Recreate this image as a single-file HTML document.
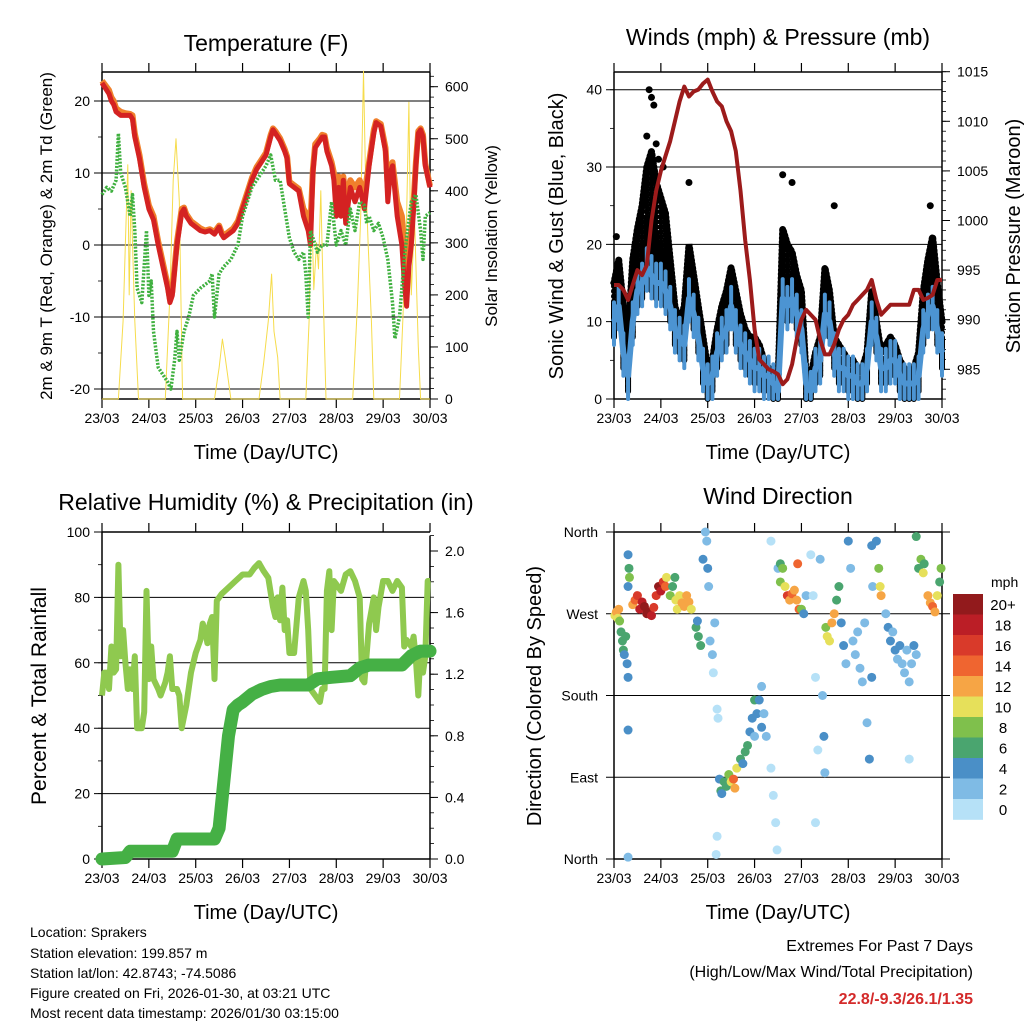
<!DOCTYPE html>
<html><head><meta charset="utf-8"><style>
html,body{margin:0;padding:0;background:#fff;}
svg{display:block;font-family:"Liberation Sans",sans-serif;}
</style></head><body>
<svg id="fig" width="1024" height="1024" viewBox="0 0 1024 1024" xmlns="http://www.w3.org/2000/svg">
<rect width="1024" height="1024" fill="#fff"/>
<text x="266" y="51" font-size="23" text-anchor="middle">Temperature (F)</text>
<text x="778" y="45" font-size="23" text-anchor="middle">Winds (mph) &amp; Pressure (mb)</text>
<text x="266" y="510" font-size="23" text-anchor="middle">Relative Humidity (%) &amp; Precipitation (in)</text>
<text x="778" y="504" font-size="23" text-anchor="middle">Wind Direction</text>
<text transform="translate(52,236) rotate(-90)" font-size="17" text-anchor="middle">2m &amp; 9m T (Red, Orange) &amp; 2m Td (Green)</text>
<text transform="translate(497,236) rotate(-90)" font-size="17" text-anchor="middle">Solar Insolation (Yellow)</text>
<text transform="translate(563,236) rotate(-90)" font-size="20" text-anchor="middle">Sonic Wind &amp; Gust (Blue, Black)</text>
<text transform="translate(1020,236) rotate(-90)" font-size="20" text-anchor="middle">Station Pressure (Maroon)</text>
<text transform="translate(46,696) rotate(-90)" font-size="21" text-anchor="middle">Percent &amp; Total Rainfall</text>
<text transform="translate(541,696) rotate(-90)" font-size="20" text-anchor="middle">Direction (Colored By Speed)</text>
<text x="266" y="459" font-size="20" text-anchor="middle">Time (Day/UTC)</text>
<text x="778" y="459" font-size="20" text-anchor="middle">Time (Day/UTC)</text>
<text x="266" y="919" font-size="20" text-anchor="middle">Time (Day/UTC)</text>
<text x="778" y="919" font-size="20" text-anchor="middle">Time (Day/UTC)</text>
<g font-size="14">
<text x="30" y="937">Location: Sprakers</text>
<text x="30" y="958">Station elevation: 199.857 m</text>
<text x="30" y="978">Station lat/lon: 42.8743; -74.5086</text>
<text x="30" y="998">Figure created on Fri, 2026-01-30, at 03:21 UTC</text>
<text x="30" y="1018">Most recent data timestamp: 2026/01/30 03:15:00</text>
</g>
<text x="973" y="951" font-size="16" text-anchor="end">Extremes For Past 7 Days</text>
<text x="973" y="977" font-size="16" text-anchor="end">(High/Low/Max Wind/Total Precipitation)</text>
<text x="973" y="1004" font-size="16" font-weight="bold" fill="#d42a2a" text-anchor="end">22.8/-9.3/26.1/1.35</text>
<g id="plots"></g>
</svg>
<script>
// ---------- data ----------
const dayLabels = ["23/03","24/03","25/03","26/03","27/03","28/03","29/03","30/03"];
const tempTicks = [20,10,0,-10,-20];
const solarTicks = [600,500,400,300,200,100,0];
const windTicks = [40,30,20,10,0];
const pressTicks = [1015,1010,1005,1000,995,990,985];
const rhTicks = [100,80,60,40,20,0];
const precipTicks = [2.0,1.6,1.2,0.8,0.4,0.0];
const dirTickLabels = ["North","West","South","East","North"];
const dirTickValues = [360,270,180,90,0];

const tempTime = [0,0.15,0.2,0.25,0.3,0.4,0.5,0.6,0.65,0.7,0.8,0.9,1.0,1.1,1.2,1.3,1.4,1.45,1.5,1.6,1.7,1.75,1.8,1.9,2.0,2.1,2.2,2.3,2.4,2.5,2.55,2.6,2.7,2.8,2.9,3.0,3.1,3.2,3.3,3.4,3.5,3.6,3.65,3.7,3.8,3.9,3.95,4.0,4.1,4.2,4.3,4.4,4.45,4.5,4.55,4.65,4.7,4.75,4.8,4.9,4.95,5.0,5.05,5.1,5.15,5.2,5.3,5.4,5.5,5.6,5.7,5.8,5.85,5.95,6.05,6.1,6.15,6.2,6.3,6.4,6.45,6.5,6.55,6.6,6.65,6.7,6.75,6.8,6.85,6.9,7.0];
const temp2m = [22.5,21,20,19.5,18.5,18,18,18,17.5,15,12,8,5,3.5,0,-3,-6,-8,-7,0,4.5,5,4,3,2.5,2,1.8,2,1.5,2.5,1.5,1,1.5,2,3,5,7,9,10.5,11.5,12.5,15,16,15.5,14.5,13,12,8.5,8,7.5,4,2,0,10,13.5,14.5,15,15,13,11,9,4,8,4,9,3,8,6,8,5,11,15.5,17,16.5,13,6,10,11,4,0,-5,-8.5,-3,0,5,11,15.5,16,15,11,8];
const temp9m = [22.8,21.5,20.5,20,19,18.5,18.3,18.2,18,15.5,12.5,8.5,5.5,4,0.5,-2.5,-5.5,-7.5,-6.5,0.5,5,5.2,4.3,3.3,2.8,2.3,2,2.2,1.8,2.7,1.8,1.3,1.8,2.3,3.3,5.3,7.3,9.3,10.8,11.8,12.8,15.3,16.2,15.8,14.8,13.3,12.3,8.8,8.3,7.8,5,4,3,10.5,14,14.8,15.3,15.2,13.5,11.5,10,7,9.5,7,9.5,6.5,9,8,9,7,11.5,16,17.2,16.8,13.5,8,10.5,11.5,6,4,0,-5,0,2,6,11.5,15.8,16.2,15.3,11.3,8.2];
const dewTime = [0,0.1,0.2,0.3,0.35,0.4,0.5,0.6,0.65,0.7,0.75,0.85,0.95,1.0,1.05,1.1,1.2,1.3,1.4,1.47,1.55,1.6,1.65,1.75,1.85,1.95,2.1,2.2,2.3,2.35,2.4,2.5,2.6,2.75,2.9,3.0,3.1,3.2,3.3,3.4,3.5,3.6,3.7,3.8,3.9,4.0,4.1,4.2,4.3,4.35,4.4,4.45,4.55,4.6,4.7,4.8,4.9,5.0,5.1,5.2,5.3,5.4,5.5,5.6,5.65,5.7,5.8,5.9,6.0,6.1,6.2,6.25,6.35,6.45,6.5,6.6,6.7,6.8,6.85,6.9,7.0];
const dewPoint = [7,8,7.5,9,15.5,10,8,4,7,2,-6,-8,2,-7,-5,-12,-17,-18,-19,-20,-16,-12,-16,-12,-10,-7,-6,-5.5,-5,-4,-10,-4,-3,-2,0,4,6,8,9,10,11,12.5,9,9,5,1,-1,-2,-1,-4,-10,2,0,-1,0,0,6,0,2,0,5,2,6,5.5,3,4,2,3,1,-2,-8,-13,-10,-2,1,6,7,2,-2,4,4.5];
const solarTime = [0,0.35,0.45,0.5,0.55,0.58,0.62,0.65,0.7,0.78,1.35,1.45,1.52,1.58,1.65,1.72,2.4,2.5,2.57,2.63,2.75,3.35,3.45,3.55,3.62,3.67,3.75,3.8,4.35,4.42,4.47,4.52,4.58,4.62,4.67,4.72,4.78,5.35,5.45,5.52,5.58,5.62,5.68,5.75,5.8,6.35,6.42,6.5,6.55,6.6,6.67,6.75,6.8,7.0];
const solarValue = [0,0,150,300,450,200,400,300,150,0,0,200,420,500,380,0,0,60,115,80,0,0,70,150,240,130,80,0,0,150,380,210,300,250,400,200,0,0,180,350,630,450,300,150,0,0,150,350,570,200,350,100,0,0];

const windTime = [0,0.1,0.2,0.3,0.4,0.5,0.6,0.7,0.8,0.9,1.0,1.1,1.2,1.3,1.4,1.5,1.6,1.7,1.8,1.9,2.0,2.1,2.2,2.3,2.4,2.5,2.6,2.7,2.8,2.9,3.0,3.1,3.2,3.3,3.4,3.5,3.6,3.7,3.8,3.9,4.0,4.1,4.2,4.3,4.4,4.5,4.6,4.7,4.8,4.9,5.0,5.1,5.2,5.3,5.4,5.5,5.6,5.7,5.8,5.9,6.0,6.1,6.2,6.3,6.4,6.5,6.6,6.7,6.8,6.9,7.0];
const windSpeed = [10,12,6,3,10,14,15,17,16,15,15,14,12,9,8,7,13,11,8,4,2,3,6,8,9,12,9,7,6,5,4,4,3,3,2,1,13,12,13,11,9,2,1,4,5,11,10,6,4,4,3,3,2,2,4,10,8,4,4,5,5,3,2,2,2,3,9,11,12,9,6];
const windGust = [15,18,12,8,18,22,25,30,32,28,26,24,18,12,10,12,20,16,12,8,4,5,9,12,14,17,14,11,9,8,8,7,5,4,3,2,22,20,19,16,14,3,3,6,8,17,14,8,7,6,5,5,4,4,6,14,10,6,7,8,7,5,4,3,4,6,14,18,21,15,10];
const gustPeakTime = [0.05,0.7,0.75,0.8,0.85,0.9,1.6,3.6,3.8,4.7,6.75,0.95,1.05];
const gustPeakValue = [21,34,40,39,38,33,28,29,28,25,25,31,30];
const pressTime = windTime;
const pressure = [993.5,993.5,993,992,993.5,995,994.5,995.5,1000,1003,1005,1006.5,1008,1010,1012,1013.5,1012.5,1013,1013.2,1013.8,1014.2,1013,1012,1011.5,1010,1009,1007,1003,998,994,989,986,985.5,985,984.8,984.5,983.5,984,985.5,988,990,991,990.5,990,988,986.5,986.5,987.5,989,990,990.5,991.5,992,992.5,993,994,992,990.5,991,991.5,991.5,991.5,991.5,991.5,993,993,992,992.2,992.5,994,994];

const rhTime = [0,0.05,0.1,0.15,0.2,0.25,0.3,0.35,0.4,0.45,0.5,0.55,0.6,0.65,0.7,0.75,0.85,0.9,0.95,1.0,1.05,1.1,1.2,1.25,1.35,1.4,1.45,1.5,1.6,1.65,1.7,1.8,1.9,2.0,2.1,2.15,2.2,2.25,2.3,2.35,2.4,2.45,2.55,2.7,2.85,3.0,3.15,3.25,3.35,3.45,3.55,3.65,3.7,3.75,3.8,3.85,3.9,3.95,4.0,4.1,4.2,4.3,4.35,4.4,4.45,4.55,4.65,4.7,4.75,4.8,4.85,4.9,4.95,5.0,5.1,5.2,5.3,5.4,5.5,5.55,5.6,5.7,5.8,5.85,5.9,6.0,6.1,6.2,6.3,6.4,6.45,6.5,6.6,6.65,6.7,6.75,6.8,6.85,6.9,6.95,7.0];
const rhValue = [50,57,57,52,65,57,58,90,62,70,60,52,58,52,62,40,40,45,82,55,65,55,52,50,54,57,62,52,52,50,40,47,57,63,67,72,70,66,72,74,55,79,81,83,85,87,87,89,90.5,88,86,77,74,80,73,83,70,73,63,63,80,85,82,70,52,50,48,52,52,82,88,70,85,84,82,87,88,85,80,55,54,72,80,70,77,85,85,82,85,83,65,67,65,68,61,50,64,57,62,85,85];
const precipTime = [0,0.5,0.6,1.5,1.6,2.4,2.5,2.6,2.7,2.8,2.9,3.0,3.2,3.4,3.6,3.8,4.4,4.6,4.9,5.3,5.5,5.7,6.4,6.6,6.8,7.0];
const precipTotal = [0,0.01,0.05,0.05,0.13,0.13,0.2,0.5,0.8,0.97,1.0,1.02,1.07,1.1,1.12,1.13,1.13,1.17,1.18,1.19,1.24,1.26,1.26,1.32,1.35,1.35];

const dirTime = [0.02,0.05,0.08,0.1,0.12,0.15,0.18,0.2,0.22,0.25,0.28,0.3,0.32,0.33,0.3,0.3,0.3,0.3,0.4,0.45,0.5,0.55,0.6,0.65,0.7,0.75,0.8,0.85,0.9,0.95,1.0,1.05,1.1,1.12,1.2,1.25,1.3,1.32,1.35,1.4,1.45,1.5,1.55,1.6,1.65,1.75,1.8,1.85,1.78,1.9,1.95,1.98,2.0,2.02,2.05,2.1,2.12,2.15,2.2,2.22,2.3,2.2,2.18,2.25,2.28,2.3,2.35,2.4,2.45,2.5,2.55,2.58,2.62,2.7,2.75,2.8,2.85,2.9,2.95,3.0,3.0,3.05,3.1,3.15,3.15,3.2,3.25,3.35,3.4,3.45,3.48,3.35,3.5,3.55,3.55,3.6,3.65,3.7,3.75,3.8,3.85,3.9,3.92,3.95,4.0,4.05,4.1,4.2,4.25,4.3,4.35,4.3,4.4,4.45,4.48,4.5,4.52,4.55,4.6,4.65,4.7,4.75,4.8,4.85,4.9,4.95,5.0,5.05,5.1,5.15,5.2,5.25,5.3,5.35,5.4,5.45,5.5,5.5,5.52,5.6,5.65,5.68,5.7,5.8,5.85,5.9,5.95,6.0,6.05,6.1,6.15,6.2,6.25,6.3,6.3,6.35,6.4,6.45,6.45,6.5,6.55,6.6,6.62,6.7,6.75,6.8,6.85,6.9,6.95,6.98];
const dirDeg = [268,272,265,275,262,250,240,230,225,245,215,335,320,310,300,200,142,2,280,285,290,275,283,278,270,272,268,277,290,300,295,305,300,310,290,300,310,285,275,290,282,278,290,283,275,255,245,235,262,330,360,350,320,300,240,225,205,260,165,155,75,25,5,88,75,72,85,80,93,85,88,78,100,110,105,118,125,140,155,135,175,160,175,190,145,160,135,100,70,40,10,350,320,305,325,320,300,290,285,292,296,285,325,275,275,270,290,335,290,200,120,40,330,180,135,95,255,245,240,260,270,285,300,260,235,215,350,320,240,225,250,210,195,260,150,110,345,200,300,350,320,300,290,270,255,240,250,230,220,235,215,205,230,195,110,215,235,225,355,320,330,315,325,290,282,278,272,290,305,320];
const dirSpeed = [11,12,10,12,9,6,6,6,5,7,4,5,7,9,4,4,4,2,13,15,17,19,18,20,21,20,19,17,17,20,18,16,15,11,8,7,6,11,10,11,13,12,12,13,11,6,6,7,5,4,2,2,4,2,2,2,1,2,1,1,1,1,1,4,6,5,7,6,8,10,15,13,10,6,5,6,7,4,4,3,6,4,4,2,4,2,3,1,1,1,1,1,3,8,6,8,11,17,12,14,12,13,14,14,8,5,3,1,1,1,1,1,2,3,4,3,9,10,11,12,13,6,6,5,4,3,4,3,2,3,3,2,2,3,2,4,4,4,3,4,9,11,13,3,5,4,3,4,3,4,3,3,2,2,1,3,4,3,7,7,8,10,7,13,13,15,12,11,7,8];
const speedBinLabels = ["20+","18","16","14","12","10","8","6","4","2","0"];
const speedBinColors = ["#921a1c","#bb1e26","#d93a2a","#ef6530","#f6a545","#e6e05a","#7fc04c","#4aa56f","#4a8fc7","#7fbbe5","#b6e1f7"];

// ---------- helpers ----------
const NS = "http://www.w3.org/2000/svg";
const root = document.getElementById("plots");
function mk(tag, attrs, parent) {
  const e = document.createElementNS(NS, tag);
  for (const k in attrs) e.setAttribute(k, attrs[k]);
  (parent || root).appendChild(e);
  return e;
}
function lin(d0, d1, r0, r1) { return v => r0 + (v - d0) * (r1 - r0) / (d1 - d0); }
function pathOf(ts, vs, xf, yf) {
  return ts.map((t, i) => (i ? "L" : "M") + xf(t).toFixed(1) + "," + yf(vs[i]).toFixed(1)).join("");
}
function speedColor(s) {
  const idx = Math.min(10, Math.floor(s / 2));
  return speedBinColors[10 - idx];
}

const L = 102, R = 430, L2 = 614, R2 = 942;
const T1 = 72, B1 = 399, T2 = 532, B2 = 859;

function frame(x0, x1, y0, y1, name, rightBorder) {
  const g = mk("g", {});
  
  
  mk("line", {x1:x0,y1:y0,x2:x1,y2:y0,stroke:"#000","stroke-width":1.5}, g);
  mk("line", {x1:x0,y1:y1,x2:x1,y2:y1,stroke:"#000","stroke-width":1.5}, g);
  mk("line", {x1:x0,y1:y0,x2:x0,y2:y1,stroke:"#000","stroke-width":1.5}, g);
  if (rightBorder) mk("line", {x1:x1,y1:y0,x2:x1,y2:y1,stroke:"#000","stroke-width":1.5}, g);
  const xf = lin(0, 7, x0, x1);
  dayLabels.forEach((lab, i) => {
    const x = xf(i);
    mk("line", {x1:x,y1:y0,x2:x,y2:y0-9,stroke:"#000","stroke-width":1.2}, g);
    mk("line", {x1:x,y1:y1,x2:x,y2:y1+9,stroke:"#000","stroke-width":1.2}, g);
    const t = mk("text", {x:x,y:y1+24,"font-size":14,"text-anchor":"middle"}, g);
    
    
    t.textContent = lab;
  });
  return xf;
}
function leftAxis(x0, x1, ticks, yf, name, fmt, minorStep, lo, hi, grid) {
  const g = mk("g", {});
  
  
  ticks.forEach(v => {
    const y = yf(v);
    mk("line", {x1:x0-8,y1:y,x2:grid?x1:x0,y2:y,stroke:"#000","stroke-width":1}, g);
    const t = mk("text", {x:x0-12,y:y+5,"font-size":14,"text-anchor":"end"}, g);
    
    
    t.textContent = fmt(v);
  });
  for (let v = lo; v <= hi + 1e-9; v += minorStep) {
    mk("line", {x1:x0-4,y1:yf(v),x2:x0,y2:yf(v),stroke:"#000","stroke-width":0.8}, g);
  }
}
function rightAxis(x1, ticks, yf, name, fmt, minorStep, lo, hi) {
  const g = mk("g", {});
  
  
  mk("line", {x1:x1,y1:yf(lo),x2:x1,y2:yf(hi),stroke:"#000","stroke-width":1.5}, g);
  ticks.forEach(v => {
    const y = yf(v);
    mk("line", {x1:x1,y1:y,x2:x1+8,y2:y,stroke:"#000","stroke-width":1}, g);
    const t = mk("text", {x:x1+15,y:y+5,"font-size":14}, g);
    
    
    t.textContent = fmt(v);
  });
  for (let v = Math.ceil(lo / minorStep) * minorStep; v <= hi + 1e-9; v += minorStep) {
    mk("line", {x1:x1,y1:yf(v),x2:x1+4,y2:yf(v),stroke:"#000","stroke-width":0.8}, g);
  }
}

// ---------- Panel 1: temperature ----------
(function(){
  const xf = frame(L, R, T1, B1, "temperature", false);
  const yT = lin(0, 20, 245, 101);
  const yS = lin(0, 600, 399, 86.7);
  leftAxis(L, R, tempTicks, yT, "temp-y", v => String(v), 5, -20, 20, true);
  rightAxis(R, solarTicks, yS, "solar-y", v => String(v), 20, 0, 628);
  const s = mk("path", {d:pathOf(solarTime, solarValue, xf, yS), fill:"none", stroke:"#f6dc4c","stroke-width":1,"stroke-linejoin":"round"});
  
  
  const o = mk("path", {d:pathOf(tempTime, temp9m, xf, yT), fill:"none", stroke:"#f0802c","stroke-width":6,"stroke-linejoin":"round"});
  
  
  const r = mk("path", {d:pathOf(tempTime, temp2m, xf, yT), fill:"none", stroke:"#d42222","stroke-width":5,"stroke-linejoin":"round"});
  
  
  const d = mk("path", {d:pathOf(dewTime, dewPoint, xf, yT), fill:"none", stroke:"#3fb03f","stroke-width":3.5,"stroke-dasharray":"2 1.5","stroke-linejoin":"round"});
  
  
})();

// ---------- Panel 2: winds & pressure ----------
(function(){
  const xf = frame(L2, R2, T1, B1, "winds", false);
  const yW = lin(0, 40, 399, 89.7);
  const yP = lin(985, 1015, 369.3, 71.7);
  leftAxis(L2, R2, windTicks, yW, "wind-y", v => String(v), 5, 0, 40, true);
  rightAxis(R2, pressTicks, yP, "pressure-y", v => String(v), 1, 982, 1015);
  const g = mk("g", {});
  
  
  const gustPath = pathOf(windTime, windGust, xf, yW);
  const gl = mk("path", {d:gustPath, fill:"none", stroke:"#000","stroke-width":7,"stroke-dasharray":"1 3","stroke-linecap":"round"}, g);
  
  
  windTime.forEach((t, i) => {
    const x = xf(t);
    const m = mk("line", {x1:x,y1:yW(Math.max(0, windSpeed[i] - 2)),x2:x,y2:yW(windGust[i]),stroke:"#000","stroke-width":6,"stroke-linecap":"round","stroke-dasharray":"0.1 5"}, g);
    
    
    const m2 = mk("line", {x1:x,y1:yW(Math.max(0, windSpeed[i] - 2)),x2:x,y2:yW((windGust[i] + windSpeed[i]) / 2),stroke:"#000","stroke-width":6}, g);
    
    
  });
  gustPeakTime.forEach((t, i) => {
    const c = mk("circle", {cx:xf(t),cy:yW(gustPeakValue[i]),r:3.5,fill:"#000"}, g);
    
    
  });
  const b = mk("g", {});
  
  
  windTime.forEach((t, i) => {
    const x = xf(t);
    const m = mk("line", {x1:x,y1:yW(Math.max(0, windSpeed[i] - 3)),x2:x,y2:yW(windSpeed[i] + 2.5),stroke:"#4c94d2","stroke-width":4,"stroke-linecap":"round"}, b);
    
    
  });
  const w = mk("path", {d:pathOf(windTime, windSpeed, xf, yW), fill:"none", stroke:"#4c94d2","stroke-width":6,"stroke-linejoin":"round"});
  
  
  const p = mk("path", {d:pathOf(pressTime, pressure, xf, yP), fill:"none", stroke:"#9c1b1b","stroke-width":4,"stroke-linejoin":"round"});
  
  
})();

// ---------- Panel 3: RH & precip ----------
(function(){
  const xf = frame(L, R, T2, B2, "humidity", false);
  const yR = lin(0, 100, 859, 532);
  const yQ = lin(0, 2.0, 859, 551);
  leftAxis(L, R, rhTicks, yR, "rh-y", v => String(v), 10, 0, 100, true);
  rightAxis(R, precipTicks, yQ, "precip-y", v => v.toFixed(1), 0.1, 0, 2.1);
  const h = mk("path", {d:pathOf(rhTime, rhValue, xf, yR), fill:"none", stroke:"#8fc94f","stroke-width":6,"stroke-linejoin":"round"});
  
  
  const q = mk("path", {d:pathOf(precipTime, precipTotal, xf, yQ), fill:"none", stroke:"#45b045","stroke-width":13,"stroke-linejoin":"round","stroke-linecap":"round"});
  
  
})();

// ---------- Panel 4: wind direction ----------
(function(){
  const xf = frame(L2, R2, T2, B2, "direction", true);
  const yD = lin(0, 360, 859, 532);
  const g = mk("g", {});
  
  
  dirTickValues.forEach((v, i) => {
    const y = yD(v);
    mk("line", {x1:L2-8,y1:y,x2:R2+8,y2:y,stroke:"#000","stroke-width":1}, g);
    const t = mk("text", {x:L2-16,y:y+5,"font-size":14,"text-anchor":"end"}, g);
    
    
    t.textContent = dirTickLabels[i];
  });
  const pts = mk("g", {});
  
  
  dirTime.forEach((t, i) => {
    const c = mk("circle", {cx:xf(t),cy:yD(dirDeg[i]),r:4.5,fill:speedColor(dirSpeed[i])}, pts);
    
    
  });
  const lg = mk("g", {});
  
  
  const lt = mk("text", {x:991,y:587,"font-size":14}, lg);
  
  
  lt.textContent = "mph";
  const h = 20.5;
  speedBinLabels.forEach((lab, i) => {
    const r = mk("rect", {x:953,y:594 + i*h,width:30,height:h+0.3,fill:speedBinColors[i]}, lg);
    
    
    const t = mk("text", {x:1003,y:594 + i*h + 16,"font-size":15,"text-anchor":"middle"}, lg);
    
    
    t.textContent = lab;
  });
})();
</script>
</body></html>
